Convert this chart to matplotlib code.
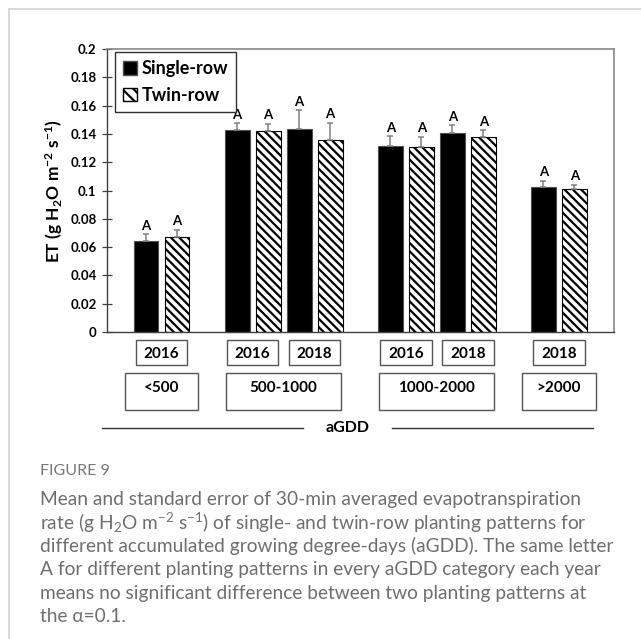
import matplotlib.pyplot as plt
import matplotlib.transforms as mtransforms
from matplotlib.patches import Rectangle, Patch
from matplotlib.lines import Line2D

plt.rcParams['font.family'] = ['Lato', 'DejaVu Sans']
plt.rcParams['mathtext.default'] = 'regular'
plt.rcParams['hatch.linewidth'] = 1.6

# ---------------- DATA ---------------- #

agdd_classes = ['<500', '500-1000', '1000-2000', '>2000']
class_years = [['2016'], ['2016', '2018'], ['2016', '2018'], ['2018']]

single_row = [0.064, 0.1425, 0.1437, 0.1312, 0.1406, 0.1026]
twin_row = [0.067, 0.142, 0.136, 0.131, 0.1375, 0.101]
single_se = [0.005, 0.005, 0.013, 0.007, 0.0055, 0.004]
twin_se = [0.005, 0.005, 0.012, 0.007, 0.005, 0.003]
single_letters = ['A', 'A', 'A', 'A', 'A', 'A']
twin_letters = ['A', 'A', 'A', 'A', 'A', 'A']

# ---------------- POSITIONS ---------------- #

class_gap = 0.47
slot_x = []
class_x = []
x = 0.0
for years in class_years:
    start = x
    for _ in years:
        slot_x.append(x)
        x += 1
    class_x.append((start + x - 1) / 2)
    x += class_gap

bar_w = 0.40
off = 0.25

# ---------------- FIGURE ---------------- #

fig = plt.figure(figsize=(6.41, 6.39), dpi=100)
ax = fig.add_axes([0.1669, 0.4804, 0.7910, 0.4429])

# panel frame
fig.add_artist(Line2D([9 / 641, 1], [1 - 9 / 639, 1 - 9 / 639], color='#d2d2d2', lw=1.2))
fig.add_artist(Line2D([9 / 641, 9 / 641], [1 - 9 / 639, 0], color='#d2d2d2', lw=1.2))

xs_single = [p - off for p in slot_x]
xs_twin = [p + off for p in slot_x]

ax.bar(xs_single, single_row, width=bar_w, color='black', edgecolor='#505050', lw=0.8, zorder=2)
ax.bar(xs_twin, twin_row, width=bar_w, color='white', edgecolor='black', lw=0.8,
       hatch='\\\\\\\\', zorder=2)

ax.errorbar(xs_single, single_row, yerr=[[0] * len(single_se), single_se], fmt='none',
            ecolor='#808080', elinewidth=1.1, capsize=2.5, capthick=1.1, zorder=3)
ax.errorbar(xs_twin, twin_row, yerr=[[0] * len(twin_se), twin_se], fmt='none',
            ecolor='#808080', elinewidth=1.1, capsize=2.5, capthick=1.1, zorder=3)

for xp, v, se, lab in zip(xs_single, single_row, single_se, single_letters):
    ax.annotate(lab, (xp, v + se), xytext=(0, 2), textcoords='offset points',
                ha='center', va='bottom', fontsize=9.5, fontweight='bold')
for xp, v, se, lab in zip(xs_twin, twin_row, twin_se, twin_letters):
    ax.annotate(lab, (xp, v + se), xytext=(0, 2), textcoords='offset points',
                ha='center', va='bottom', fontsize=9.5, fontweight='bold')

ax.set_xlim(-0.879, 7.298)
ax.set_ylim(0, 0.2)
ax.set_yticks([0, 0.02, 0.04, 0.06, 0.08, 0.1, 0.12, 0.14, 0.16, 0.18, 0.2])
ax.set_yticklabels(['0', '0.02', '0.04', '0.06', '0.08', '0.1', '0.12', '0.14', '0.16', '0.18', '0.2'])
ax.set_xticks([])
ax.tick_params(axis='y', direction='inout', length=7, width=0.9, color='#404040',
               labelsize=9.5, pad=4)
for t in ax.get_yticklabels():
    t.set_fontweight('bold')

for side in ['left', 'bottom']:
    ax.spines[side].set_color('#404040')
    ax.spines[side].set_linewidth(1.0)
for side in ['top', 'right']:
    ax.spines[side].set_color('#888888')
    ax.spines[side].set_linewidth(1.2)

ax.set_ylabel('ET (g H$_2$O m$^{-2}$ s$^{-1}$)', fontsize=12.5, fontweight='bold', labelpad=4)

handles = [Patch(facecolor='black', edgecolor='#505050'),
           Patch(facecolor='white', edgecolor='black', hatch='\\\\\\')]
leg = ax.legend(handles, ['Single-row', 'Twin-row'], loc='upper left',
                bbox_to_anchor=(0.016, 0.989), fancybox=False, framealpha=1,
                edgecolor='#303030', prop={'weight': 'bold', 'size': 13},
                handlelength=0.75, handleheight=0.75, handletextpad=0.25,
                borderpad=0.45, labelspacing=0.55, borderaxespad=0)
leg.get_frame().set_linewidth(1.0)

# ---------------- CATEGORY BOXES ---------------- #

trans = mtransforms.blended_transform_factory(ax.transData, ax.transAxes)

year_w = 0.83
year_y0, year_y1 = -0.117, -0.028
i = 0
for years in class_years:
    for yr in years:
        xc = slot_x[i]
        ax.add_patch(Rectangle((xc - year_w / 2, year_y0), year_w, year_y1 - year_y0,
                               transform=trans, clip_on=False, fill=False,
                               edgecolor='#555555', lw=1.0))
        ax.text(xc, (year_y0 + year_y1) / 2 - 0.004, yr, transform=trans, ha='center',
                va='center', fontsize=11, fontweight='bold')
        i += 1

cls_y0, cls_y1 = -0.274, -0.145
for name, years, xc in zip(agdd_classes, class_years, class_x):
    w = 1.19 if len(years) == 1 else 1.85
    ax.add_patch(Rectangle((xc - w / 2, cls_y0), w, cls_y1 - cls_y0,
                           transform=trans, clip_on=False, fill=False,
                           edgecolor='#555555', lw=1.0))
    ax.text(xc, (cls_y0 + cls_y1) / 2 + 0.012, name, transform=trans, ha='center',
            va='center', fontsize=11, fontweight='bold')

# aGDD axis title with rules on both sides
ax.add_artist(Line2D([-0.01, 0.387], [-0.339, -0.339], transform=ax.transAxes,
                     color='#333333', lw=1.0, clip_on=False))
ax.add_artist(Line2D([0.562, 0.959], [-0.339, -0.339], transform=ax.transAxes,
                     color='#333333', lw=1.0, clip_on=False))
ax.text(0.475, -0.339, 'aGDD', transform=ax.transAxes, ha='center', va='center',
        fontsize=11.5, fontweight='bold')

# ---------------- CAPTION ---------------- #

cap_color = '#6e6e6e'
fig.text(40 / 641, 1 - 471 / 639, 'FIGURE 9', ha='left', va='center',
         fontsize=11.5, color='#777777')
caption = [
    'Mean and standard error of 30-min averaged evapotranspiration',
    'rate (g H$_2$O m$^{-2}$ s$^{-1}$) of single- and twin-row planting patterns for',
    'different accumulated growing degree-days (aGDD). The same letter',
    'A for different planting patterns in every aGDD category each year',
    'means no significant difference between two planting patterns at',
    'the \u03b1=0.1.',
]
for k, line in enumerate(caption):
    fig.text(40 / 641, 1 - (499 + 23.6 * k) / 639, line, ha='left', va='center',
             fontsize=13.8, color=cap_color)

fig.savefig('out.png', dpi=100, facecolor='white')
